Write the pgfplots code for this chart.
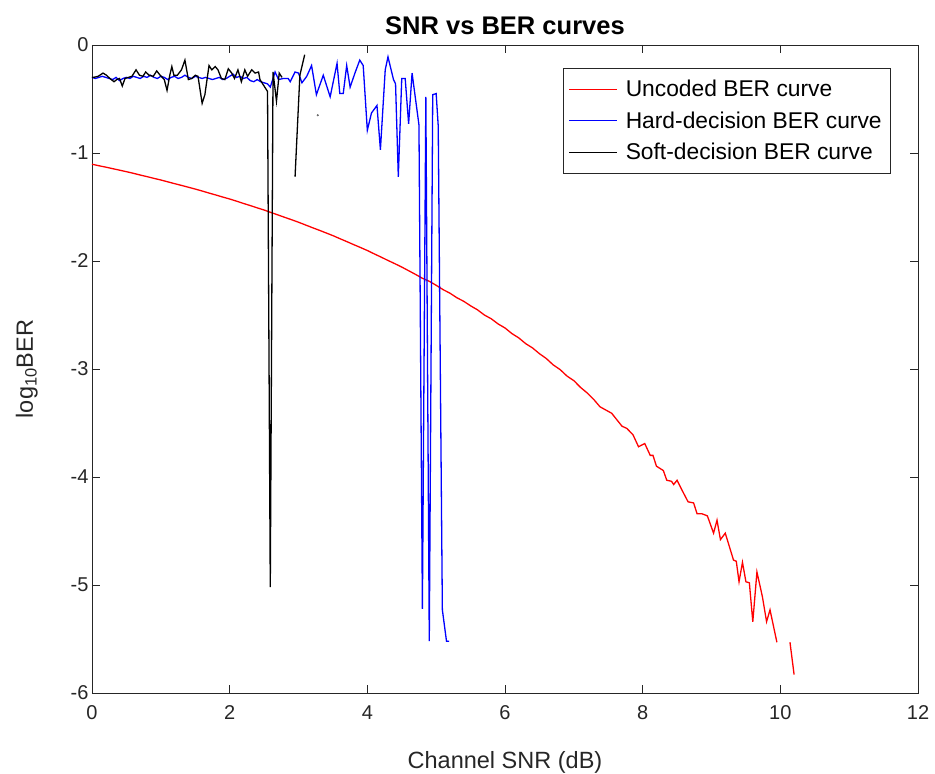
\documentclass[border=0pt]{standalone}
\usepackage{pgfplots}
\pgfplotsset{compat=1.18}
\usepackage{pgfplotstable}
\usepackage{fontspec}
\setmainfont{Liberation Sans}
\usetikzlibrary{calc}
\definecolor{axgray}{RGB}{38,38,38}

\pgfplotstableread{
x y
0.0 -1.104
0.1 -1.118
0.2 -1.131
0.3 -1.145
0.4 -1.159
0.5 -1.173
0.6 -1.188
0.7 -1.204
0.8 -1.219
0.9 -1.235
1.0 -1.250
1.1 -1.267
1.2 -1.284
1.3 -1.300
1.4 -1.317
1.5 -1.334
1.6 -1.352
1.7 -1.371
1.8 -1.389
1.9 -1.408
2.0 -1.426
2.1 -1.446
2.2 -1.467
2.3 -1.487
2.4 -1.508
2.5 -1.528
2.6 -1.551
2.7 -1.573
2.8 -1.596
2.9 -1.618
3.0 -1.641
3.1 -1.666
3.2 -1.691
3.3 -1.715
3.4 -1.740
3.5 -1.765
3.6 -1.793
3.7 -1.820
3.8 -1.848
3.9 -1.875
4.0 -1.903
4.1 -1.934
4.2 -1.964
4.3 -1.995
4.4 -2.025
4.5 -2.056
4.6 -2.090
4.7 -2.124
4.8 -2.160
4.9 -2.188
5.0 -2.225
5.1 -2.265
5.2 -2.298
5.3 -2.340
5.4 -2.373
5.5 -2.415
5.6 -2.452
5.7 -2.500
5.8 -2.535
5.9 -2.583
6.0 -2.620
6.1 -2.672
6.2 -2.712
6.3 -2.765
6.4 -2.805
6.5 -2.858
6.6 -2.903
6.7 -2.962
6.8 -3.005
6.9 -3.065
7.0 -3.108
7.1 -3.172
7.2 -3.225
7.3 -3.290
7.38 -3.35
7.55 -3.41
7.70 -3.53
7.77 -3.55
7.86 -3.61
7.94 -3.72
8.03 -3.69
8.11 -3.80
8.15 -3.80
8.20 -3.90
8.30 -3.94
8.35 -4.03
8.42 -4.04
8.45 -4.07
8.50 -4.03
8.57 -4.12
8.66 -4.23
8.74 -4.24
8.79 -4.34
8.86 -4.34
8.94 -4.36
9.03 -4.52
9.08 -4.40
9.13 -4.58
9.20 -4.52
9.32 -4.77
9.36 -4.78
9.40 -4.97
9.45 -4.79
9.50 -4.97
9.55 -4.98
9.60 -5.34
9.66 -4.88
9.74 -5.11
9.80 -5.34
9.85 -5.23
9.95 -5.53
10.05 nan
10.14 -5.53
10.20 -5.83
}\uncoded

\pgfplotstableread{
x y
0.00 -0.30
0.05 -0.31
0.10 -0.30
0.15 -0.29
0.20 -0.30
0.25 -0.31
0.30 -0.32
0.35 -0.30
0.40 -0.33
0.45 -0.31
0.50 -0.30
0.55 -0.31
0.60 -0.29
0.65 -0.30
0.70 -0.31
0.75 -0.29
0.80 -0.30
0.85 -0.28
0.90 -0.30
0.95 -0.31
1.00 -0.29
1.05 -0.30
1.10 -0.32
1.15 -0.30
1.20 -0.29
1.25 -0.31
1.30 -0.30
1.35 -0.28
1.40 -0.30
1.45 -0.31
1.50 -0.29
1.55 -0.30
1.60 -0.31
1.65 -0.30
1.70 -0.31
1.75 -0.32
1.80 -0.31
1.85 -0.30
1.90 -0.32
1.95 -0.31
2.00 -0.29
2.05 -0.27
2.10 -0.30
2.15 -0.29
2.20 -0.31
2.25 -0.30
2.30 -0.33
2.35 -0.34
2.40 -0.32
2.45 -0.34
2.50 -0.35
2.55 -0.36
2.59 -0.39
2.63 -0.31
2.66 -0.25
2.71 -0.32
2.78 -0.31
2.85 -0.31
2.88 -0.34
2.95 -0.25
3.00 -0.26
3.05 -0.35
3.12 -0.29
3.19 -0.19
3.26 -0.46
3.36 -0.28
3.46 -0.48
3.56 -0.17
3.60 -0.45
3.65 -0.45
3.70 -0.19
3.75 -0.39
3.82 -0.26
3.89 -0.14
3.94 -0.19
4.00 -0.79
4.06 -0.63
4.14 -0.56
4.19 -0.97
4.26 -0.23
4.30 -0.11
4.38 -0.32
4.41 -0.36
4.45 -1.22
4.50 -0.31
4.55 -0.31
4.60 -0.73
4.65 -0.26
4.75 -0.74
4.80 -5.22
4.85 -0.48
4.90 -5.52
4.95 -0.46
5.00 -0.45
5.03 -0.75
5.09 -5.23
5.15 -5.52
5.19 -5.52
}\hard

\pgfplotstableread{
x y
0.00 -0.30
0.02 -0.30
0.09 -0.29
0.16 -0.26
0.21 -0.28
0.26 -0.31
0.32 -0.34
0.36 -0.32
0.40 -0.31
0.44 -0.38
0.48 -0.31
0.53 -0.30
0.58 -0.29
0.64 -0.23
0.69 -0.28
0.74 -0.29
0.78 -0.25
0.83 -0.28
0.89 -0.29
0.94 -0.24
0.99 -0.28
1.05 -0.32
1.09 -0.42
1.13 -0.28
1.16 -0.20
1.19 -0.28
1.24 -0.28
1.30 -0.23
1.35 -0.14
1.40 -0.32
1.45 -0.31
1.50 -0.28
1.54 -0.29
1.60 -0.54
1.64 -0.46
1.70 -0.19
1.74 -0.23
1.79 -0.20
1.83 -0.23
1.88 -0.31
1.93 -0.32
1.98 -0.22
2.03 -0.26
2.07 -0.31
2.12 -0.23
2.17 -0.34
2.22 -0.23
2.26 -0.29
2.32 -0.23
2.37 -0.26
2.42 -0.25
2.44 -0.32
2.51 -0.39
2.55 -0.43
2.59 -5.02
2.63 -0.25
2.68 -0.52
2.72 -0.26
2.76 -0.30
2.85 nan
2.95 -1.22
3.02 -0.28
3.09 -0.09
}\soft

\begin{document}
\begin{tikzpicture}
\begin{axis}[
  scale only axis,
  width=826pt, height=648pt,
  xmin=0, xmax=12, ymin=-6, ymax=0,
  xtick={0,2,...,12}, ytick={-6,-5,...,0},
  tick align=inside, tick pos=both,
  major tick length=8pt,
  axis line style={axgray, line width=0.8pt},
  every tick/.style={axgray, line width=0.8pt},
  tick label style={font=\fontsize{20}{23}\selectfont, text=axgray},
  xticklabel style={yshift=-9pt},
  /pgf/number format/assume math mode=true,
  unbounded coords=jump,
  title={SNR vs BER curves},
  title style={font=\bfseries\fontsize{25.5}{28}\selectfont, text=black, at={(axis description cs:0.5,1.021)}, anchor=center},
  xlabel={Channel SNR (dB)},
  xlabel style={font=\fontsize{23.5}{27}\selectfont, text=axgray, at={(axis description cs:0.5,-0.107)}, anchor=center},
  ylabel={log\textsubscript{10}BER},
  ylabel style={font=\fontsize{23.5}{27}\selectfont, text=axgray, at={(axis description cs:-0.079,0.5)}, anchor=center, rotate=0},
  legend style={at={(axis description cs:0.966,0.9645)}, anchor=north east, draw=axgray, font=\fontsize{22.8}{27}\selectfont, cells={anchor=west}, inner xsep=6pt, inner ysep=10pt, row sep=9.5pt, column sep=6pt},
  legend image code/.code={\draw[#1, line width=1pt] (0pt,0pt) -- (48pt,0pt);},
]
\addplot[color=red, line width=1.3pt] table[x=x, y=y] {\uncoded};
\addlegendentry{Uncoded BER curve}
\addplot[color=blue, line width=1.3pt] table[x=x, y=y] {\hard};
\addlegendentry{Hard-decision BER curve}
\addplot[color=black, line width=1.3pt] table[x=x, y=y] {\soft};
\addlegendentry{Soft-decision BER curve}
\addplot[only marks, mark=*, mark size=0.8pt, black!60, forget plot] coordinates {(3.28,-0.65)};
\end{axis}
\pgfresetboundingbox
\path[use as bounding box] ($(current axis.south west)+(-92pt,-81pt)$) rectangle ($(current axis.north east)+(17pt,45pt)$);
\end{tikzpicture}
\end{document}
